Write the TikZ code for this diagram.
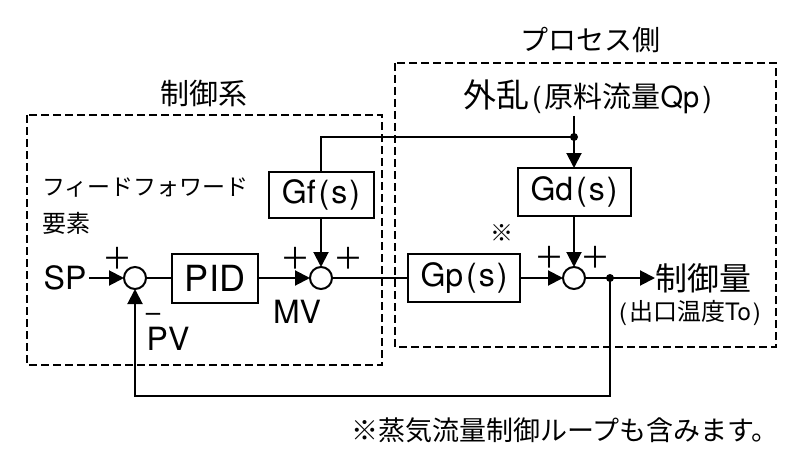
\documentclass[tikz,border=0pt]{standalone}
\usepackage{fontspec}
\setmainfont{TeX Gyre Heros}
\newfontfamily\cjk{Noto Sans CJK JP}
\usetikzlibrary{arrows.meta}
\newcommand{\fsz}[1]{\fontsize{#1}{#1}\selectfont}
\begin{document}
\begin{tikzpicture}[x=1pt,y=-1pt,
  every node/.style={inner sep=0pt, outer sep=0pt},
  ln/.style={line width=2pt},
  arr/.style={line width=2pt, -{Triangle[length=15pt,width=15pt]}},
  blk/.style={draw, line width=2pt, font=\fsz{32}},
  sumnode/.style={draw, circle, line width=2pt, minimum size=22pt},
  dot/.style={circle, fill, minimum size=8pt},
  grp/.style={line width=2pt, dash pattern=on 8pt off 4pt},
  plus/.style={font=\cjk\fsz{30}},
  cjklabel/.style={font=\cjk}
]
\useasboundingbox (0,0) rectangle (800,468);

% group frames
\draw[grp] (27,115) rectangle (382,365);
\draw[grp] (395,63) rectangle (776,347);
\node[cjklabel, font=\cjk\fsz{29}] (tctl) at (204,93) {制御系};
\node[cjklabel, font=\cjk\fsz{28}] (tproc) at (590,40) {プロセス側};

% blocks
\node[blk, minimum width=86pt, minimum height=49pt, font=\fsz{36}] (pid) at (215,278) {PID};
\node[blk, minimum width=105pt, minimum height=46pt] (gf) at (321,195) {Gf\hspace{3pt}(\hspace{2pt}s\hspace{2pt})};
\node[blk, minimum width=112pt, minimum height=48pt] (gp) at (464,278) {Gp\hspace{3pt}(\hspace{2pt}s\hspace{2pt})};
\node[blk, minimum width=113pt, minimum height=48pt] (gd) at (574,192) {Gd\hspace{3pt}(\hspace{2pt}s\hspace{2pt})};

% summing junctions
\node[sumnode] (s1) at (135,278) {};
\node[sumnode] (s2) at (321,278) {};
\node[sumnode] (s3) at (574,278) {};

% dots and free ends
\node[dot] (jo) at (610,278) {};
\node[dot] (jd) at (574,137) {};
\coordinate (dtop) at (574,116);
\coordinate (fb) at (610,396);

% texts
\node[font=\fsz{32}] (sp) at (65,278) {SP};
\node[font=\fsz{32}] (mv) at (297,312) {MV};
\node[font=\fsz{32}] (pv) at (168,339) {PV};
\node[font=\fsz{26}, anchor=base] (minus) at (153,321) {\textendash};
\node[plus] (p1) at (117,258) {＋};
\node[plus] (p2) at (295,258) {＋};
\node[plus] (p3) at (348,258) {＋};
\node[plus] (p4) at (549,257) {＋};
\node[plus] (p5) at (595,257) {＋};
\node[font=\cjk\fsz{23}] (kome) at (502,233) {※};
\node[anchor=west, font=\cjk\fsz{23}] (ff1) at (42,188) {フィードフォワード};
\node[anchor=west, font=\cjk\fsz{24}] (ff2) at (42,223) {要素};
\node[anchor=west] (dist) at (463,97) {{\cjk\fsz{33}外乱}\hspace{3pt}{\fsz{29}(\hspace{3pt}{\cjk 原料流量}Qp\hspace{3pt})}};
\node[anchor=west, font=\cjk\fsz{32}] (out) at (655,278) {制御量};
\node[font=\fsz{24}] (outsub) at (690,313) {(\hspace{2pt}{\cjk 出口温度}To\hspace{2pt})};
\node[font=\cjk\fsz{27}] (note) at (565,430) {※蒸気流量制御ループも含みます。};

% connectors
\draw[arr, shorten <=3pt] (sp) -- (s1);
\draw[ln] (s1) -- (pid);
\draw[arr] (pid) -- (s2);
\draw[ln] (s2) -- (gp);
\draw[arr] (gp) -- (s3);
\draw[arr] (s3) -- (out);
\draw[arr] (gf) -- (s2);
\draw[arr] (gd) -- (s3);
\draw[arr] (dtop) -- (gd);
\draw[ln] (jd.center) -| (gf.north);
\draw[arr] (jo.center) -- (fb) -| (s1.south);
\end{tikzpicture}
\end{document}
